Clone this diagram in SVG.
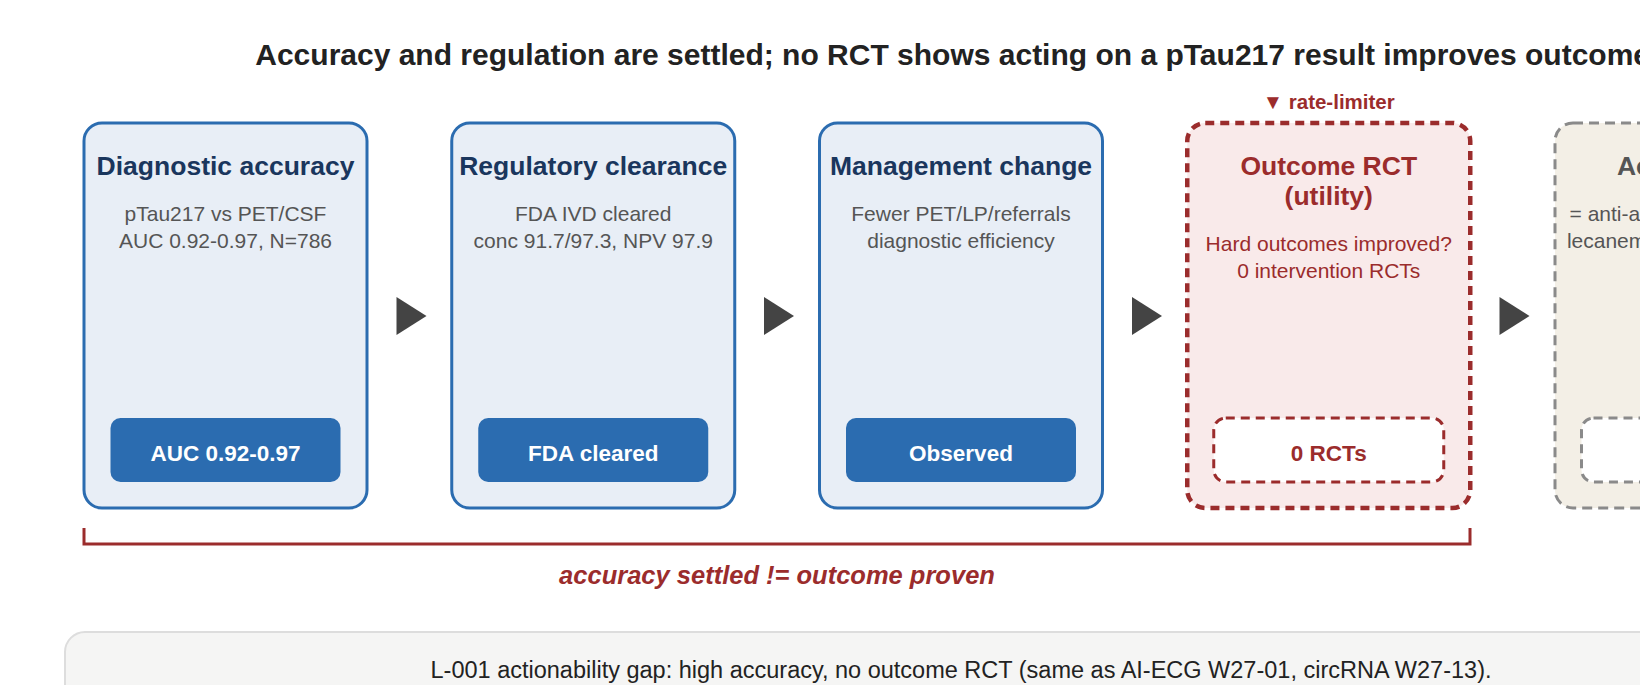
<svg xmlns="http://www.w3.org/2000/svg" width="1640" height="685" viewBox="0 0 1640 685">
<style>
text{font-family:"Liberation Sans",Arial,Helvetica,sans-serif}
.title{font-size:30px;font-weight:bold;fill:#222}
.node{fill:#E8EEF6;stroke:#2B6CB0;stroke-width:3}
.ntitle{font-size:26.5px;font-weight:bold;fill:#1A365D;text-anchor:middle}
.sub{font-size:21px;fill:#555;text-anchor:middle}
.badge{fill:#2B6CB0}
.btext{font-size:22.5px;font-weight:bold;fill:#fff;text-anchor:middle}
.rnode{fill:#F9EAEA;stroke:#9B2C2C;stroke-width:4.5;stroke-dasharray:9 6}
.rtitle{font-size:26.5px;font-weight:bold;fill:#9B2C2C;text-anchor:middle}
.rsub{font-size:21px;fill:#9B2C2C;text-anchor:middle}
.rbadge{fill:#fff;stroke:#9B2C2C;stroke-width:3;stroke-dasharray:9 6}
.rbtext{font-size:22.5px;font-weight:bold;fill:#9B2C2C;text-anchor:middle}
.gnode{fill:#F3EFE6;stroke:#8A8A8A;stroke-width:3;stroke-dasharray:10 6}
.gtitle{font-size:26.5px;font-weight:bold;fill:#555;text-anchor:middle}
.gbadge{fill:#fff;stroke:#8A8A8A;stroke-width:3;stroke-dasharray:9 6}
.arrow{fill:#444}
</style>
<rect width="1640" height="685" fill="#fff"/>
<text class="title" x="961" y="65" text-anchor="middle">Accuracy and regulation are settled; no RCT shows acting on a pTau217 result improves outcomes</text>

<g id="node-accuracy">
<rect class="node" x="84" y="123" width="283" height="385" rx="18"/>
<text class="ntitle" x="225.5" y="175">Diagnostic accuracy</text>
<text class="sub" x="225.5" y="221">pTau217 vs PET/CSF</text>
<text class="sub" x="225.5" y="248">AUC 0.92-0.97, N=786</text>
<rect class="badge" x="110.5" y="418" width="230" height="64" rx="10"/>
<text class="btext" x="225.5" y="461">AUC 0.92-0.97</text>
</g>

<g id="node-regulatory">
<rect class="node" x="451.75" y="123" width="283" height="385" rx="18"/>
<text class="ntitle" x="593.25" y="175">Regulatory clearance</text>
<text class="sub" x="593.25" y="221">FDA IVD cleared</text>
<text class="sub" x="593.25" y="248">conc 91.7/97.3, NPV 97.9</text>
<rect class="badge" x="478.25" y="418" width="230" height="64" rx="10"/>
<text class="btext" x="593.25" y="461">FDA cleared</text>
</g>

<g id="node-management">
<rect class="node" x="819.5" y="123" width="283" height="385" rx="18"/>
<text class="ntitle" x="961" y="175">Management change</text>
<text class="sub" x="961" y="221">Fewer PET/LP/referrals</text>
<text class="sub" x="961" y="248">diagnostic efficiency</text>
<rect class="badge" x="846" y="418" width="230" height="64" rx="10"/>
<text class="btext" x="961" y="461">Observed</text>
</g>

<g id="node-outcome">
<text x="1328.75" y="109" font-size="20.5" font-weight="bold" fill="#9B2C2C" text-anchor="middle">▼ rate-limiter</text>
<rect class="rnode" x="1187.25" y="123" width="283" height="385" rx="18"/>
<text class="rtitle" x="1328.75" y="175">Outcome RCT</text>
<text class="rtitle" x="1328.75" y="205">(utility)</text>
<text class="rsub" x="1328.75" y="251">Hard outcomes improved?</text>
<text class="rsub" x="1328.75" y="278">0 intervention RCTs</text>
<rect class="rbadge" x="1213.75" y="418" width="230" height="64" rx="12"/>
<text class="rbtext" x="1328.75" y="461">0 RCTs</text>
</g>

<g id="node-action">
<rect class="gnode" x="1555" y="123" width="283" height="385" rx="18"/>
<text class="gtitle" x="1696.5" y="175">Actionability</text>
<text class="sub" x="1696.5" y="221">= anti-amyloid therapy start</text>
<text class="sub" x="1696.5" y="248">lecanemab/donanemab use</text>
<rect class="gbadge" x="1581.5" y="418" width="230" height="64" rx="12"/>
</g>

<g id="connectors">
<polygon class="arrow" points="396.5,297 396.5,335 426.5,316"/>
<polygon class="arrow" points="764,297 764,335 794,316"/>
<polygon class="arrow" points="1132,297 1132,335 1162,316"/>
<polygon class="arrow" points="1499.5,297 1499.5,335 1529.5,316"/>
</g>

<g id="bracket">
<polyline points="84,528 84,544 1470,544 1470,528" fill="none" stroke="#9B2C2C" stroke-width="3"/>
<text x="777" y="584" font-size="25.5" font-weight="bold" font-style="italic" fill="#9B2C2C" text-anchor="middle">accuracy settled != outcome proven</text>
</g>

<g id="note">
<rect x="65" y="632" width="1800" height="120" rx="20" fill="#F5F5F4" stroke="#DDDDDD" stroke-width="2"/>
<text x="961" y="678" font-size="23.5" fill="#222" text-anchor="middle">L-001 actionability gap: high accuracy, no outcome RCT (same as AI-ECG W27-01, circRNA W27-13).</text>
</g>
</svg>
